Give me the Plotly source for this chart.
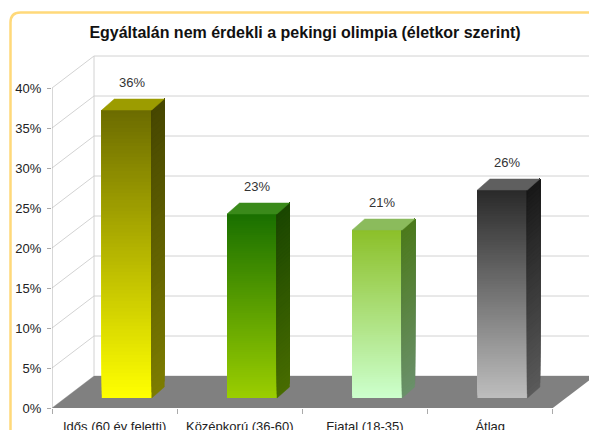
import plotly.graph_objects as go

# ---------------- data ----------------
title = "Egyáltalán nem érdekli a pekingi olimpia (életkor szerint)"
categories = ["Idős (60 év feletti)", "Középkorú (36-60)", "Fiatal (18-35)", "Átlag"]
values = [36, 23, 21, 26]
y_ticks = [0, 5, 10, 15, 20, 25, 30, 35, 40]
y_ticktext = [f"{v}%" for v in y_ticks]

# ---------------- styles ----------------
front_top = ["#6c6c00", "#1a7000", "#8cc02a", "#2a2a2a"]
front_bottom = ["#ffff00", "#9acd00", "#ccffcc", "#bdbdbd"]
side_top = ["#474700", "#1a4600", "#4c7a1c", "#181818"]
side_bottom = ["#7c7c00", "#486c00", "#6a906a", "#5a5a5a"]
top_face = ["#9c9c00", "#3a8a1a", "#8bbb5c", "#5f5f5f"]

PX_CAT = 125.2    # pixels per category
PX_PCT = 8.0      # pixels per percent
L, R, T, B = 52, 0, 0, 22
W, H = 589, 430
X0 = -0.5
X1 = X0 + (W - L - R) / PX_CAT
Y0 = 0
Y1 = Y0 + (H - T - B) / PX_PCT

FLOOR_DX = 42 / PX_CAT
FLOOR_DY = 32 / PX_PCT
BAR_SHIFT = 12.2 / PX_CAT
BAR_BASE = 10 / PX_PCT
BAR_W = 50 / PX_CAT
BAR_DX = 12.5 / PX_CAT
BAR_DY = 11 / PX_PCT
LABEL_DY = 28 / PX_PCT
LABEL_DX = 5 / PX_CAT
GRID = "#d2d2d2"
FONT = "Liberation Sans, Arial, sans-serif"


def hex2rgb(h):
    h = h.lstrip("#")
    return [int(h[i:i + 2], 16) for i in (0, 2, 4)]


def lerp(c1, c2, t):
    a, b = hex2rgb(c1), hex2rgb(c2)
    return "rgb(%d,%d,%d)" % tuple(round(a[i] + (b[i] - a[i]) * t) for i in range(3))


fig = go.Figure()
shapes = []

# back wall gridlines, side wall diagonals
for v in y_ticks:
    shapes.append(dict(type="line", xref="x", yref="y", x0=X0 + FLOOR_DX, y0=v + FLOOR_DY,
                       x1=X1, y1=v + FLOOR_DY, line=dict(color=GRID, width=1), layer="below"))
    shapes.append(dict(type="line", xref="x", yref="y", x0=X0, y0=v,
                       x1=X0 + FLOOR_DX, y1=v + FLOOR_DY, line=dict(color=GRID, width=1), layer="below"))
shapes.append(dict(type="line", xref="x", yref="y", x0=X0 + FLOOR_DX, y0=FLOOR_DY,
                   x1=X0 + FLOOR_DX, y1=max(y_ticks) + FLOOR_DY, line=dict(color=GRID, width=1), layer="below"))
# y axis line
shapes.append(dict(type="line", xref="x", yref="y", x0=X0, y0=0, x1=X0, y1=max(y_ticks),
                   line=dict(color="#b0b0b0", width=1), layer="below"))
# floor
xe = len(categories) - 0.5
shapes.append(dict(type="path", xref="x", yref="y",
                   path=f"M {X0},0 L {xe},0 L {xe + FLOOR_DX},{FLOOR_DY} L {X0 + FLOOR_DX},{FLOOR_DY} Z",
                   fillcolor="#808080", line=dict(width=0), layer="below"))


# outer rounded border (decoration, paper coords)
def px(xp):
    return (xp - L) / (W - L - R)


def py(yp):
    return (H - B - yp) / (H - T - B)


r = 10
bx, by = 10.5, 12.5
shapes.append(dict(type="path", xref="paper", yref="paper",
                   path=(f"M {px(bx)},{py(H + 10)} L {px(bx)},{py(by + r)} "
                         f"Q {px(bx)},{py(by)} {px(bx + r)},{py(by)} L {px(W + 10)},{py(by)}"),
                   line=dict(color="#ffd97a", width=2.5)))

N = 80
M = 50
annotations = []
for k, v in enumerate(values):
    xc = k + BAR_SHIFT
    bases = [BAR_BASE + v * i / N for i in range(N)]
    heights = [v * (1 - i / N) for i in range(N)]
    colors = [lerp(front_bottom[k], front_top[k], i / (N - 1)) for i in range(N)]
    fig.add_trace(go.Bar(x=[xc] * N, y=heights, base=bases, width=BAR_W,
                         marker=dict(color=colors, line=dict(width=0)),
                         hoverinfo="skip", showlegend=False))
    xr = xc + BAR_W / 2
    top = BAR_BASE + v
    for i in range(M):
        y0 = BAR_BASE + v * i / M
        col = lerp(side_bottom[k], side_top[k], i / (M - 1))
        fig.add_trace(go.Scatter(x=[xr, xr, xr + BAR_DX, xr + BAR_DX, xr],
                                 y=[y0, top, top + BAR_DY, y0 + BAR_DY, y0],
                                 fill="toself", fillcolor=col, mode="lines",
                                 line=dict(width=0.5, color=col),
                                 hoverinfo="skip", showlegend=False))
    xl = xc - BAR_W / 2
    fig.add_trace(go.Scatter(x=[xl, xr, xr + BAR_DX, xl + BAR_DX, xl],
                             y=[top, top, top + BAR_DY, top + BAR_DY, top],
                             fill="toself", fillcolor=top_face[k], mode="lines",
                             line=dict(width=0.5, color=top_face[k]),
                             hoverinfo="skip", showlegend=False))
    annotations.append(dict(x=xc + LABEL_DX, y=top + LABEL_DY, xref="x", yref="y",
                            text=f"{v}%", showarrow=False,
                            font=dict(size=13, color="#333333", family=FONT)))

fig.update_layout(
    template="none",
    width=W, height=H,
    margin=dict(l=L, r=R, t=T, b=B, pad=0),
    paper_bgcolor="white", plot_bgcolor="white",
    barmode="overlay", showlegend=False,
    font=dict(family=FONT, size=13, color="#333333"),
    title=dict(text=f"<b>{title}</b>", x=305 / W, xanchor="center", xref="container",
               y=1 - 32 / H, yanchor="middle", yref="container",
               font=dict(size=16, color="#111111", family=FONT)),
    xaxis=dict(range=[X0, X1], tickmode="array", tickvals=list(range(len(categories))),
               ticktext=categories, ticks="", showgrid=False, zeroline=False, showline=False,
               automargin=False, ticklabelstandoff=9,
               minor=dict(tick0=-0.5, dtick=1, ticks="outside", ticklen=5, tickcolor="#aaaaaa", showgrid=False),
               tickfont=dict(size=13, color="#222222", family=FONT)),
    yaxis=dict(range=[Y0, Y1], tickmode="array", tickvals=y_ticks, ticktext=y_ticktext,
               ticks="outside", ticklen=4, tickcolor="#aaaaaa", showgrid=False, zeroline=False,
               showline=False, automargin=False, ticklabelstandoff=3,
               tickfont=dict(size=13, color="#222222", family=FONT)),
    shapes=shapes,
    annotations=annotations,
)

fig.write_html("out.html", config={"displayModeBar": False, "staticPlot": True},
               post_script="document.body.style.margin='0';document.body.style.overflow='hidden';")
